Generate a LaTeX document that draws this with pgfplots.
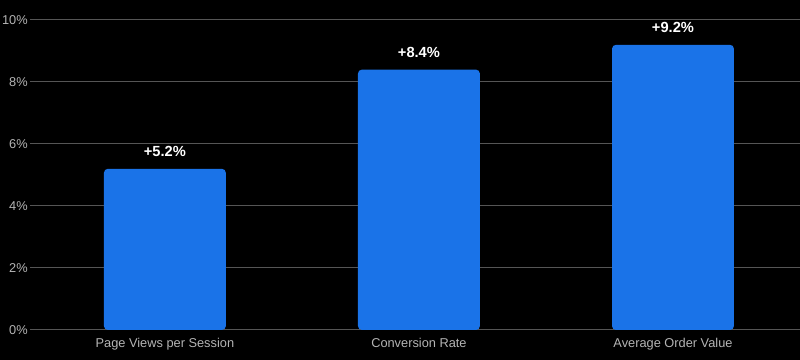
\documentclass[border=0pt]{standalone}
\usepackage{pgfplots}
\pgfplotsset{compat=1.18}
\usepackage{fontspec}
\setmainfont{Liberation Sans}
\definecolor{barblue}{HTML}{1A73E8}
\definecolor{ticklab}{HTML}{B4B4B4}
\definecolor{gridc}{HTML}{555555}
\begin{document}
\begin{tikzpicture}[x=0.75pt,y=0.75pt]
\fill[black] (-30,-30) rectangle (770,330);
\begin{axis}[
  at={(0,0)}, anchor=south west,
  scale only axis,
  width=577.5pt, height=232.5pt,
  ybar, bar width=0.48,
  xmin=-0.531, xmax=2.5,
  ymin=0, ymax=10,
  xtick=data,
  xticklabels={Page Views per Session, Conversion Rate, Average Order Value},
  ytick={0,2,4,6,8,10},
  yticklabel={\pgfmathprintnumber{\tick}\%},
  /pgf/number format/assume math mode=true,
  axis line style={draw=none},
  major tick length=0pt,
  ymajorgrids,
  grid style={gridc, line width=0.75pt},
  tick label style={font=\fontsize{9.6}{11}\selectfont, text=ticklab},
  xticklabel style={yshift=-3pt},
  yticklabel style={xshift=0pt, inner sep=1.5pt},
  nodes near coords={+\pgfmathprintnumber[fixed,precision=1,fixed zerofill]{\pgfplotspointmeta}\%},
  every node near coord/.append style={font=\bfseries\fontsize{11}{13}\selectfont, text=white, yshift=5.5pt},
  clip=false,
]
\addplot[fill=barblue, draw=none, rounded corners=3pt] coordinates {(0,5.2) (1,8.4) (2,9.2)};
\end{axis}
\pgfresetboundingbox
\useasboundingbox (-30,-30) rectangle (770,330);
\end{tikzpicture}
\end{document}
